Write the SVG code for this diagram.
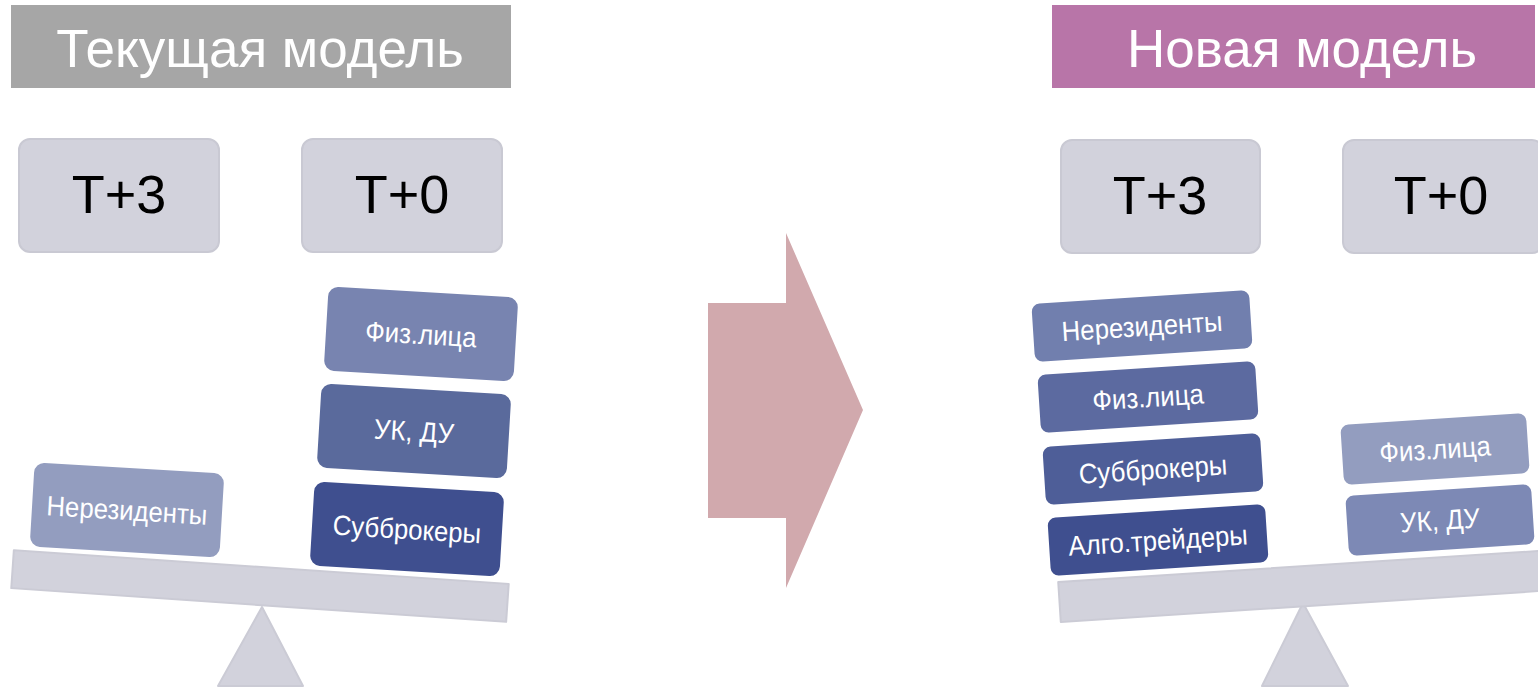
<svg xmlns="http://www.w3.org/2000/svg" width="1538" height="688" viewBox="0 0 1538 688">
<style>
.hdr{font-family:"Liberation Sans",Arial,sans-serif;font-size:53px;fill:#fff;text-anchor:middle}
.tbox{fill:#d2d2dc;stroke:#c9c9d3;stroke-width:2}
.ttxt{font-family:"Liberation Sans",Arial,sans-serif;font-size:54px;fill:#000;text-anchor:middle}
.btxt{font-family:"Liberation Sans",Arial,sans-serif;font-size:28px;fill:#fff;text-anchor:middle}
.scale{fill:#d2d2dc;stroke:#cbcbd5;stroke-width:2;stroke-linejoin:round}
</style>
<g id="header-current"><rect x="11" y="5" width="500" height="83" fill="#a6a6a6"/><text class="hdr" x="260" y="67">Текущая модель</text></g>
<g id="header-new"><rect x="1052" y="5" width="483" height="83" fill="#b875a8"/><text class="hdr" x="1302" y="67">Новая модель</text></g>

<g id="cur-t3"><rect class="tbox" x="19" y="139" width="200" height="113" rx="11"/><text class="ttxt" x="119" y="213">T+3</text></g>
<g id="cur-t0"><rect class="tbox" x="302" y="139" width="200" height="113" rx="11"/><text class="ttxt" x="402" y="213">T+0</text></g>
<g id="new-t3"><rect class="tbox" x="1061" y="140" width="199" height="113" rx="11"/><text class="ttxt" x="1160" y="214">T+3</text></g>
<g id="new-t0"><rect class="tbox" x="1343" y="140" width="200" height="113" rx="11"/><text class="ttxt" x="1441" y="214">T+0</text></g>

<g id="cur-scale">
<polygon class="scale" points="262,607 218,686 303,686"/>
<rect class="scale" x="-248" y="-19" width="496" height="38" transform="translate(260,586) rotate(3.9)"/>
</g>
<g id="new-scale">
<polygon class="scale" points="1303,603 1262,686 1348,686"/>
<rect class="scale" x="-248" y="-20" width="496" height="40" transform="translate(1307,586) rotate(-3.7)"/>
</g>

<g id="cur-nonres" transform="translate(127,510) rotate(3.4)"><rect x="-95" y="-42" width="190" height="84" rx="10" fill="#939dbf"/><text class="btxt" x="0" y="10" transform="scale(0.92,1)">Нерезиденты</text></g>
<g id="cur-fiz" transform="translate(421,334) rotate(3.4)"><rect x="-95" y="-42" width="190" height="84" rx="10" fill="#7884b0"/><text class="btxt" x="0" y="10" transform="scale(0.92,1)">Физ.лица</text></g>
<g id="cur-uk" transform="translate(414,431) rotate(3.4)"><rect x="-95" y="-42" width="190" height="84" rx="10" fill="#5a6a9c"/><text class="btxt" x="0" y="10" transform="scale(0.92,1)">УК, ДУ</text></g>
<g id="cur-sub" transform="translate(407,529) rotate(3.4)"><rect x="-95" y="-42" width="190" height="84" rx="10" fill="#3f4f8f"/><text class="btxt" x="0" y="10" transform="scale(0.92,1)">Субброкеры</text></g>

<g id="new-nonres" transform="translate(1142,326) rotate(-3.7)"><rect x="-109" y="-29" width="218" height="58" rx="8" fill="#717fae"/><text class="btxt" x="0" y="10" transform="scale(0.92,1)">Нерезиденты</text></g>
<g id="new-fiz" transform="translate(1148,397) rotate(-3.7)"><rect x="-109" y="-29" width="218" height="58" rx="8" fill="#5c6aa0"/><text class="btxt" x="0" y="10" transform="scale(0.92,1)">Физ.лица</text></g>
<g id="new-sub" transform="translate(1153,469) rotate(-3.7)"><rect x="-109" y="-29" width="218" height="58" rx="8" fill="#4e5e98"/><text class="btxt" x="0" y="10" transform="scale(0.92,1)">Субброкеры</text></g>
<g id="new-algo" transform="translate(1158,540) rotate(-3.7)"><rect x="-109" y="-29" width="218" height="58" rx="8" fill="#3f4f8f"/><text class="btxt" x="0" y="10" transform="scale(0.92,1)">Алго.трейдеры</text></g>
<g id="new-fiz2" transform="translate(1435,449) rotate(-3.7)"><rect x="-93" y="-30" width="186" height="60" rx="8" fill="#939dbf"/><text class="btxt" x="0" y="10" transform="scale(0.92,1)">Физ.лица</text></g>
<g id="new-uk" transform="translate(1440,520) rotate(-3.7)"><rect x="-93" y="-30" width="186" height="60" rx="8" fill="#7d89b5"/><text class="btxt" x="0" y="10" transform="scale(0.92,1)">УК, ДУ</text></g>

<g id="connectors">
<polygon points="708,303 786,303 786,233 863,410 786,588 786,518 708,518" fill="#d1a9ad"/>
</g>
</svg>
